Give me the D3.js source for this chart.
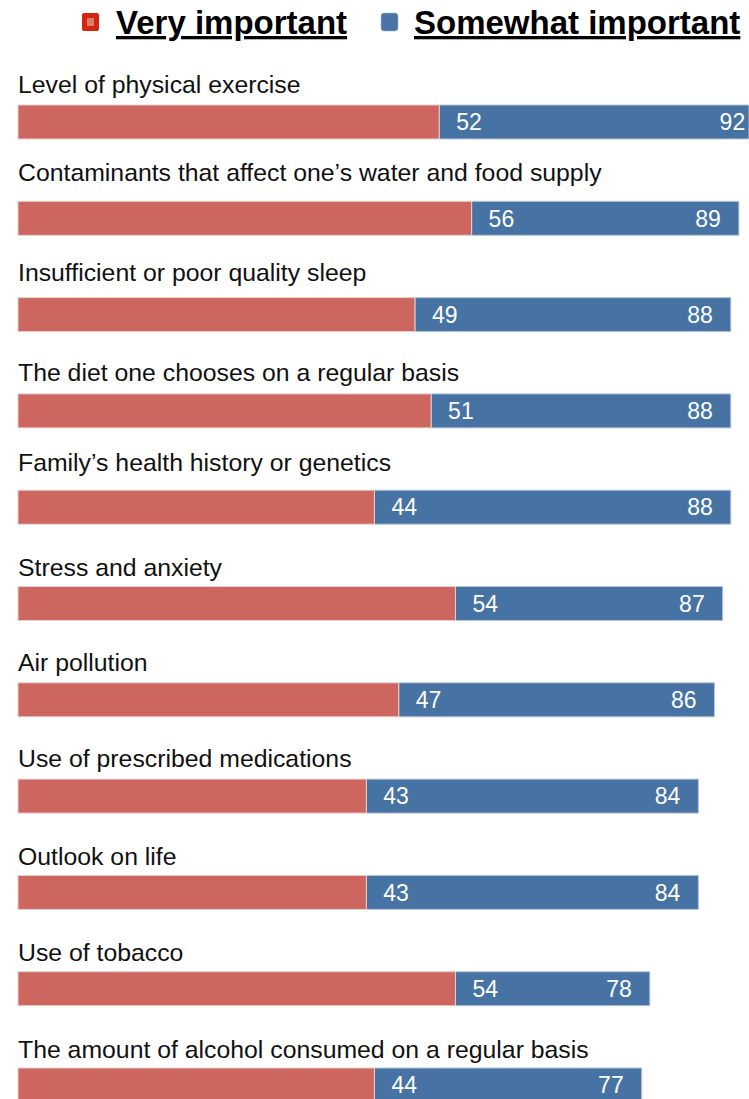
<!DOCTYPE html>
<html>
<head>
<meta charset="utf-8">
<script src="https://cdn.jsdelivr.net/npm/d3@7"></script>
<style>
  html, body { margin: 0; padding: 0; background: #fff; }
  svg { display: block; font-family: "Liberation Sans", Arial, sans-serif; }
</style>
</head>
<body>
<svg id="chart" width="749" height="1099"></svg>
<script>
// Factors rated as important to health (percent of respondents)
const categories = [
  "Level of physical exercise",
  "Contaminants that affect one\u2019s water and food supply",
  "Insufficient or poor quality sleep",
  "The diet one chooses on a regular basis",
  "Family\u2019s health history or genetics",
  "Stress and anxiety",
  "Air pollution",
  "Use of prescribed medications",
  "Outlook on life",
  "Use of tobacco",
  "The amount of alcohol consumed on a regular basis"
];
// "Very important" share
const veryImportant = [52, 56, 49, 51, 44, 54, 47, 43, 43, 54, 44];
// Combined "Very" + "Somewhat important" share (end of the stacked bar)
const totalImportant = [92, 89, 88, 88, 88, 87, 86, 84, 84, 78, 77];
const seriesNames = ["Very important", "Somewhat important"];

// Layout: space between each category label's baseline and its bar
const labelGap = [12, 20, 17, 13, 19, 11, 12, 12, 10, 11, 10];

const W = 749, H = 1099;
const colors = { very: "#cc665f", somewhat: "#4673a3", edge: "#b7c6d8" };

const svg = d3.select("#chart");

// Horizontal value scale: 0 at the left bar edge
const x = d3.scaleLinear().domain([0, 100]).range([18, 18 + 810]);

// Rows laid out top to bottom
const rowStep = 96.3, firstBarTop = 105, barH = 34;
const y = d3.scaleLinear()
  .domain([0, categories.length - 1])
  .range([firstBarTop, firstBarTop + rowStep * (categories.length - 1)]);

const rows = categories.map((c, i) => ({
  name: c, very: veryImportant[i], total: totalImportant[i], i
}));

const g = svg.append("g");

const row = g.selectAll("g.row").data(rows).join("g").attr("class", "row");

// Category label above each bar
row.append("text")
  .attr("x", 18)
  .attr("y", d => y(d.i) - labelGap[d.i])
  .attr("font-size", 24.8)
  .attr("fill", "#111")
  .text(d => d.name);

// "Somewhat important" segment (runs from the red end to the total)
row.append("rect")
  .attr("x", d => x(d.very))
  .attr("y", d => y(d.i))
  .attr("width", d => Math.min(x(d.total), W) - x(d.very))
  .attr("height", barH)
  .attr("fill", colors.somewhat)
  .attr("stroke", colors.edge)
  .attr("stroke-width", 1);

// "Very important" segment
row.append("rect")
  .attr("x", x(0))
  .attr("y", d => y(d.i))
  .attr("width", d => x(d.very) - x(0))
  .attr("height", barH)
  .attr("fill", colors.very)
  .attr("stroke", "#e8d0ce")
  .attr("stroke-width", 1);

// Value labels inside the blue segment
row.append("text")
  .attr("x", d => x(d.very) + 17)
  .attr("y", d => y(d.i) + barH / 2)
  .attr("dy", "0.36em")
  .attr("font-size", 23)
  .attr("fill", "#fff")
  .text(d => d.very);

row.append("text")
  .attr("x", d => x(d.total) - 18)
  .attr("y", d => y(d.i) + barH / 2)
  .attr("dy", "0.36em")
  .attr("text-anchor", "end")
  .attr("font-size", 23)
  .attr("fill", "#fff")
  .text(d => d.total);

// Legend
const legend = svg.append("g");
const legendItems = [
  { name: seriesNames[0], sx: 82, tx: 116, kind: "very" },
  { name: seriesNames[1], sx: 381, tx: 414, kind: "somewhat" }
];
const li = legend.selectAll("g").data(legendItems).join("g");

li.filter(d => d.kind === "very").each(function(d) {
  const s = d3.select(this);
  s.append("rect").attr("x", d.sx).attr("y", 13).attr("width", 17).attr("height", 18)
    .attr("rx", 2).attr("fill", "#d3250f");
  s.append("rect").attr("x", d.sx + 5).attr("y", 18).attr("width", 7).attr("height", 8)
    .attr("fill", "#e07a70");
});
li.filter(d => d.kind === "somewhat").append("rect")
  .attr("x", d => d.sx).attr("y", 13).attr("width", 17).attr("height", 18)
  .attr("rx", 3).attr("fill", "#4a74a8").attr("stroke", "#9fb6d3").attr("stroke-width", 0.6);

li.append("text")
  .attr("x", d => d.tx)
  .attr("y", 34)
  .attr("font-size", 33)
  .attr("font-weight", "bold")
  .attr("fill", "#000")
  .attr("text-decoration", "underline")
  .text(d => d.name);
</script>
</body>
</html>
